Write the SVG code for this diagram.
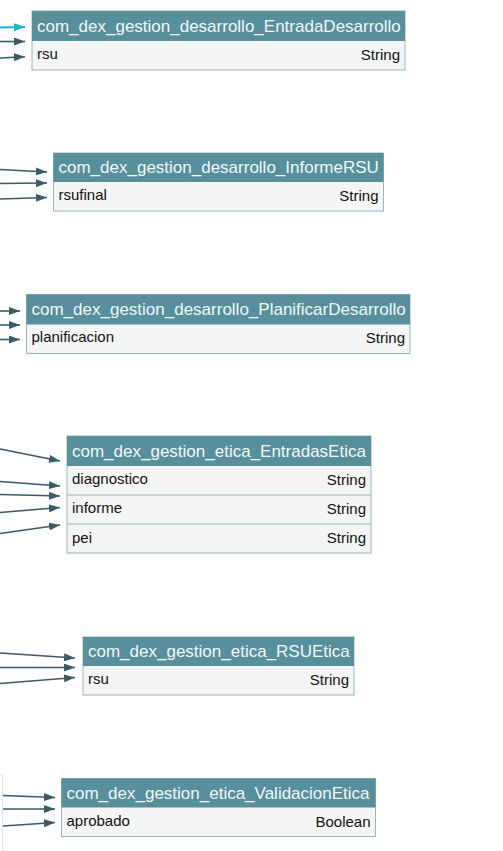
<svg xmlns="http://www.w3.org/2000/svg" width="503" height="851" viewBox="0 0 503 851">
<style>
.box{fill:#f4f6f6;stroke:#9ab6bf;stroke-width:1}
.hdr{fill:#578f9c}
.sep{stroke:#9ab6bf;stroke-width:1}
.ht{font-family:"Liberation Sans",Arial,sans-serif;font-size:17px;fill:#f2f7f8}
.rt{font-family:"Liberation Sans",Arial,sans-serif;font-size:15px;fill:#111}
.rr{text-anchor:end}
.c{fill:none;stroke:#3b5b66;stroke-width:1.6;marker-end:url(#ah)}
.cc{fill:none;stroke:#1ab3cc;stroke-width:1.8;marker-end:url(#ahc)}
</style>
<defs>
<marker id="ah" markerUnits="userSpaceOnUse" markerWidth="11" markerHeight="8" refX="11" refY="4" orient="auto"><path d="M0,0 L11,4 L0,8 z" fill="#3b5b66"/></marker>
<marker id="ahc" markerUnits="userSpaceOnUse" markerWidth="11" markerHeight="8" refX="11" refY="4" orient="auto"><path d="M0,0 L11,4 L0,8 z" fill="#1ab3cc"/></marker>
</defs>
<rect width="503" height="851" fill="#ffffff"/>
<path d="M0,774.5 H2.5 V851" fill="none" stroke="#dde3e5" stroke-width="1"/>
<g id="connectors">
<path class="cc" d="M0,27.5 L25,27"/>
<path class="c" d="M0,41.5 L25,41.5"/>
<path class="c" d="M0,58 L25,56.7"/>
<path class="c" d="M0,169.5 L47,172"/>
<path class="c" d="M0,183.5 L47,183"/>
<path class="c" d="M0,199 L47,197.5"/>
<path class="c" d="M0,311 L20,311"/>
<path class="c" d="M0,325 L20,325"/>
<path class="c" d="M0,339.5 L20,339.5"/>
<path class="c" d="M0,449 L60,461"/>
<path class="c" d="M0,481.5 L60,486"/>
<path class="c" d="M0,494.5 L60,496"/>
<path class="c" d="M0,512.5 L60,507.5"/>
<path class="c" d="M0,533.5 L60,525"/>
<path class="c" d="M0,653 L75,658"/>
<path class="c" d="M0,667.5 L75,667.5"/>
<path class="c" d="M0,683.5 L75,677.5"/>
<path class="c" d="M3,795.5 L55,797.5"/>
<path class="c" d="M3,809 L55,809"/>
<path class="c" d="M3,826 L55,822.5"/>
</g>
<g id="EntradaDesarrollo">
<rect class="box" x="32" y="11" width="373" height="59"/>
<rect class="hdr" x="32" y="11" width="373" height="30"/>
<text class="ht" x="37" y="31.5">com_dex_gestion_desarrollo_EntradaDesarrollo</text>
<text class="rt" x="37" y="59">rsu</text>
<text class="rt rr" x="400" y="59.5">String</text>
</g>
<g id="InformeRSU">
<rect class="box" x="53.5" y="153" width="330" height="58"/>
<rect class="hdr" x="53.5" y="153" width="330" height="29"/>
<text class="ht" x="58.5" y="173">com_dex_gestion_desarrollo_InformeRSU</text>
<text class="rt" x="58.5" y="200">rsufinal</text>
<text class="rt rr" x="378.5" y="200.5">String</text>
</g>
<g id="PlanificarDesarrollo">
<rect class="box" x="26.5" y="294.5" width="383.5" height="59"/>
<rect class="hdr" x="26.5" y="294.5" width="383.5" height="30"/>
<text class="ht" x="31.5" y="315">com_dex_gestion_desarrollo_PlanificarDesarrollo</text>
<text class="rt" x="31.5" y="342">planificacion</text>
<text class="rt rr" x="405" y="343">String</text>
</g>
<g id="EntradasEtica">
<rect class="box" x="67" y="436" width="304" height="117"/>
<rect class="hdr" x="67" y="436" width="304" height="30"/>
<line class="sep" x1="67" y1="495" x2="371" y2="495"/>
<line class="sep" x1="67" y1="524" x2="371" y2="524"/>
<text class="ht" x="72" y="456.5">com_dex_gestion_etica_EntradasEtica</text>
<text class="rt" x="72" y="484">diagnostico</text>
<text class="rt rr" x="366" y="485">String</text>
<text class="rt" x="72" y="513">informe</text>
<text class="rt rr" x="366" y="514">String</text>
<text class="rt" x="72" y="543">pei</text>
<text class="rt rr" x="366" y="543">String</text>
</g>
<g id="RSUEtica">
<rect class="box" x="83" y="637" width="271" height="58"/>
<rect class="hdr" x="83" y="637" width="271" height="29"/>
<text class="ht" x="88" y="657">com_dex_gestion_etica_RSUEtica</text>
<text class="rt" x="88" y="684">rsu</text>
<text class="rt rr" x="349" y="685">String</text>
</g>
<g id="ValidacionEtica">
<rect class="box" x="61.5" y="778.5" width="314" height="58"/>
<rect class="hdr" x="61.5" y="778.5" width="314" height="29"/>
<text class="ht" x="66.5" y="798.5">com_dex_gestion_etica_ValidacionEtica</text>
<text class="rt" x="66.5" y="826">aprobado</text>
<text class="rt rr" x="370.5" y="827">Boolean</text>
</g>
</svg>
